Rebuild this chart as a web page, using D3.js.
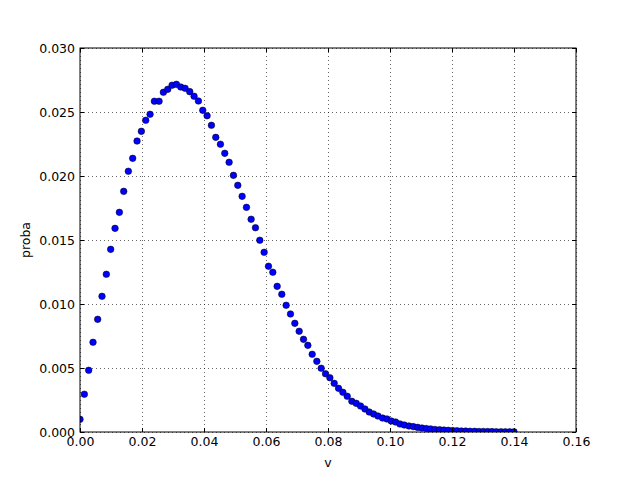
<!DOCTYPE html>
<html>
<head>
<meta charset="utf-8">
<script src="https://cdn.jsdelivr.net/npm/d3@7"></script>
<style>
  body { margin: 0; background: #fff; }
  svg { display: block; }
  text { font-family: "DejaVu Sans", sans-serif; }
</style>
</head>
<body>
<svg id="chart" width="640" height="480"></svg>
<script>
// v values (x axis)
const vValues = [
  0.0000, 0.0014, 0.0028, 0.0042, 0.0057, 0.0071, 0.0085, 0.0099, 0.0113, 0.0127,
  0.0141, 0.0156, 0.0170, 0.0184, 0.0198, 0.0212, 0.0226, 0.0240, 0.0255, 0.0269,
  0.0283, 0.0297, 0.0311, 0.0325, 0.0339, 0.0354, 0.0368, 0.0382, 0.0396, 0.0410,
  0.0424, 0.0438, 0.0453, 0.0467, 0.0481, 0.0495, 0.0509, 0.0523, 0.0537, 0.0552,
  0.0566, 0.0580, 0.0594, 0.0608, 0.0622, 0.0636, 0.0651, 0.0665, 0.0679, 0.0693,
  0.0707, 0.0721, 0.0735, 0.0749, 0.0764, 0.0778, 0.0792, 0.0806, 0.0820, 0.0834,
  0.0848, 0.0862, 0.0877, 0.0891, 0.0905, 0.0919, 0.0933, 0.0947, 0.0961, 0.0976,
  0.0990, 0.1004, 0.1018, 0.1032, 0.1046, 0.1061, 0.1075, 0.1089, 0.1103, 0.1117,
  0.1131, 0.1145, 0.1160, 0.1174, 0.1188, 0.1202, 0.1216, 0.1230, 0.1244, 0.1258,
  0.1273, 0.1287, 0.1301, 0.1315, 0.1329, 0.1343, 0.1358, 0.1372, 0.1386, 0.1400
];
// probability values (y axis)
const probaValues = [
  0.00099, 0.00295, 0.00482, 0.00701, 0.00880, 0.01060, 0.01232, 0.01427, 0.01591, 0.01716,
  0.01880, 0.02037, 0.02138, 0.02273, 0.02349, 0.02435, 0.02482, 0.02584, 0.02584, 0.02654,
  0.02677, 0.02709, 0.02716, 0.02695, 0.02685, 0.02659, 0.02623, 0.02586, 0.02513, 0.02471,
  0.02396, 0.02302, 0.02248, 0.02177, 0.02107, 0.02005, 0.01927, 0.01841, 0.01755, 0.01662,
  0.01596, 0.01498, 0.01404, 0.01295, 0.01248, 0.01138, 0.01076, 0.00990, 0.00922, 0.00849,
  0.00787, 0.00724, 0.00677, 0.00607, 0.00552, 0.00498, 0.00455, 0.00424, 0.00380, 0.00341,
  0.00310, 0.00279, 0.00240, 0.00224, 0.00203, 0.00180, 0.00156, 0.00141, 0.00125, 0.00109,
  0.00102, 0.00086, 0.00078, 0.00063, 0.00055, 0.00047, 0.00042, 0.00036, 0.00031, 0.00027,
  0.00024, 0.00020, 0.00018, 0.00015, 0.00013, 0.00011, 0.00010, 0.00008, 0.00007, 0.00006,
  0.00005, 0.00004, 0.00004, 0.00003, 0.00003, 0.00002, 0.00002, 0.00001, 0.00001, 0.00001
];
const xTicks = [0, 0.02, 0.04, 0.06, 0.08, 0.10, 0.12, 0.14, 0.16];
const yTicks = [0, 0.005, 0.010, 0.015, 0.020, 0.025, 0.030];
const xLabel = "v";
const yLabel = "proba";

const svg = d3.select("#chart");
const L = 80, R = 576, T = 48, B = 432;
const x = d3.scaleLinear().domain([0, 0.16]).range([L, R]);
const y = d3.scaleLinear().domain([0, 0.030]).range([B, T]);

// grid
const grid = svg.append("g");
grid.selectAll("line.gx").data(xTicks).enter().append("line")
  .attr("x1", d => Math.round(x(d)) + 0.5).attr("x2", d => Math.round(x(d)) + 0.5)
  .attr("y1", T).attr("y2", B)
  .attr("stroke", "#000").attr("stroke-width", 0.6).attr("stroke-dasharray", "1,3");
grid.selectAll("line.gy").data(yTicks).enter().append("line")
  .attr("y1", d => Math.round(y(d)) + 0.5).attr("y2", d => Math.round(y(d)) + 0.5)
  .attr("x1", L).attr("x2", R)
  .attr("stroke", "#000").attr("stroke-width", 0.6).attr("stroke-dasharray", "1,3");

// clip
svg.append("clipPath").attr("id", "clip").append("rect")
  .attr("x", L).attr("y", T).attr("width", R - L).attr("height", B - T);

// points
const data = vValues.map((v, i) => ({ v, p: probaValues[i] }));
svg.append("g").attr("clip-path", "url(#clip)")
  .selectAll("circle").data(data).enter().append("circle")
  .attr("cx", d => x(d.v)).attr("cy", d => y(d.p)).attr("r", 3.3)
  .attr("fill", "#0000ff").attr("stroke", "#000").attr("stroke-width", 0.5);

// axes: bottom with labels, top without, ticks inward
const fmtX = d3.format(".2f"), fmtY = d3.format(".3f");
const axB = svg.append("g").attr("transform", `translate(0,${B})`)
  .call(d3.axisBottom(x).tickValues(xTicks).tickFormat(fmtX).tickSizeInner(-4).tickSizeOuter(0).tickPadding(5));
const axT = svg.append("g").attr("transform", `translate(0,${T})`)
  .call(d3.axisTop(x).tickValues(xTicks).tickFormat("").tickSizeInner(-4).tickSizeOuter(0));
const axL = svg.append("g").attr("transform", `translate(${L},0)`)
  .call(d3.axisLeft(y).tickValues(yTicks).tickFormat(fmtY).tickSizeInner(-4).tickSizeOuter(0).tickPadding(5));
const axR = svg.append("g").attr("transform", `translate(${R},0)`)
  .call(d3.axisRight(y).tickValues(yTicks).tickFormat("").tickSizeInner(-4).tickSizeOuter(0));
[axB, axT, axL, axR].forEach(a => {
  a.select(".domain").remove();
  a.selectAll("line").attr("stroke", "#000").attr("stroke-width", 1);
  a.selectAll("text").attr("fill", "#000").style("font-size", "12.5px").style("font-family", "DejaVu Sans, sans-serif");
});

// frame
svg.append("rect").attr("x", L).attr("y", T).attr("width", R - L).attr("height", B - T)
  .attr("fill", "none").attr("stroke", "#000").attr("stroke-width", 1);

// axis labels
svg.append("text").attr("x", (L + R) / 2).attr("y", 467).attr("text-anchor", "middle")
  .style("font-size", "12.5px").text(xLabel);
svg.append("text").attr("transform", `translate(30,${(T + B) / 2}) rotate(-90)`)
  .attr("text-anchor", "middle").style("font-size", "12.5px").text(yLabel);
</script>
</body>
</html>
